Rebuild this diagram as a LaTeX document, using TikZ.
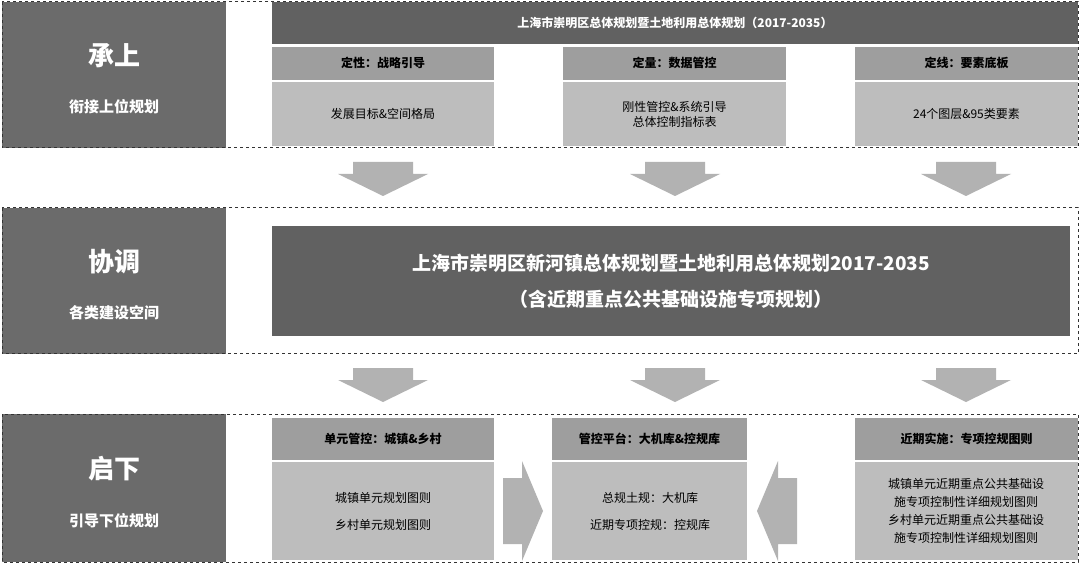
\documentclass[tikz,border=0pt]{standalone}
\usepackage{fontspec}
\setmainfont{Noto Sans CJK SC}
\begin{document}
\begin{tikzpicture}[x=1pt,y=-1pt,
  outer/.style={draw=black!80,dashed,line width=1pt},
  side/.style={fill=black!58,draw=none},
  banner/.style={fill=black!62,draw=none},
  head/.style={fill=black!38,draw=none},
  body/.style={fill=black!26,draw=none},
  arr/.style={fill=black!30,draw=none},
  wt/.style={text=white,font=\bfseries}]
\useasboundingbox (0,0) rectangle (1080,564);
\fill[white] (0,0) rectangle (1080,564);
% side panels
\foreach \y/\h/\a/\b/\n in {2/148/承上/衔接上位规划/r1, 208/354/协调/各类建设空间/r2, 414/562/启下/引导下位规划/r3}{
  \fill[side] (2,\y) rectangle (226,\h);
  \node[wt,font=\bfseries\fontsize{26}{28}\selectfont] (\n a) at (114,{\y+(\h-\y)*0.37}) {\a};
  \node[wt,font=\bfseries\fontsize{15}{17}\selectfont] (\n b) at (114,{\y+(\h-\y)*0.72}) {\b};
  \draw[outer] (2,\y) rectangle (1078,\h);
}
% row 1
\fill[banner] (272,2) rectangle (1078,44);
\node[wt,font=\bfseries\fontsize{12}{14}\selectfont] (t1) at (675,23) {上海市崇明区总体规划暨土地利用总体规划（2017-2035）};
\foreach \x/\w/\hh/\bb/\n in {272/494/定性：战略引导/发展目标\&空间格局/c1, 563/786/定量：数据管控/{刚性管控\&系统引导\\总体控制指标表}/c2, 855/1078/定线：要素底板/24个图层\&95类要素/c3}{
  \fill[head] (\x,47) rectangle (\w,80);
  \fill[body] (\x,82) rectangle (\w,146);
  \node[font=\bfseries\fontsize{12}{14}\selectfont] (\n h) at ({(\x+\w)/2},63) {\hh};
  \node[align=center,font=\fontsize{12}{15}\selectfont] (\n b) at ({(\x+\w)/2},114) {\bb};
}
% arrows
\foreach \cx in {383,675,966}{
  \foreach \ty in {162,368}{
    \fill[arr] (\cx-30,\ty) -- (\cx+30,\ty) -- (\cx+30,\ty+12) -- (\cx+45,\ty+12) -- (\cx,\ty+34) -- (\cx-45,\ty+12) -- (\cx-30,\ty+12) -- cycle;
  }
}
% row 2
\fill[banner] (272,226) rectangle (1070,336);
\node[wt,align=center,font=\bfseries\fontsize{19}{36}\selectfont] (main) at (671,281) {上海市崇明区新河镇总体规划暨土地利用总体规划2017-2035\\（含近期重点公共基础设施专项规划）};
% row 3
\foreach \x/\w/\hh/\bb/\n in {272/494/单元管控：城镇\&乡村/{城镇单元规划图则\\乡村单元规划图则}/d1, 552/747/管控平台：大机库\&控规库/{总规土规：大机库\\近期专项控规：控规库}/d2, 855/1078/近期实施：专项控规图则/{城镇单元近期重点公共基础设\\施专项控制性详细规划图则\\乡村单元近期重点公共基础设\\施专项控制性详细规划图则}/d3}{
  \fill[head] (\x,418) rectangle (\w,460);
  \fill[body] (\x,462) rectangle (\w,560);
  \node[font=\bfseries\fontsize{12}{14}\selectfont] (\n h) at ({(\x+\w)/2},439) {\hh};
}
\node[align=center,font=\fontsize{12}{27}\selectfont] (d1b) at (383,511) {城镇单元规划图则\\乡村单元规划图则};
\node[align=center,font=\fontsize{12}{27}\selectfont] (d2b) at (650,511) {总规土规：大机库\\近期专项控规：控规库};
\node[align=center,font=\fontsize{12}{18}\selectfont] (d3b) at (966,511) {城镇单元近期重点公共基础设\\施专项控制性详细规划图则\\乡村单元近期重点公共基础设\\施专项控制性详细规划图则};
\fill[arr] (503,478) -- (522,478) -- (522,461) -- (543,511) -- (522,561) -- (522,544) -- (503,544) -- cycle;
\fill[arr] (797,478) -- (778,478) -- (778,461) -- (757,511) -- (778,561) -- (778,544) -- (797,544) -- cycle;
\end{tikzpicture}
\end{document}
